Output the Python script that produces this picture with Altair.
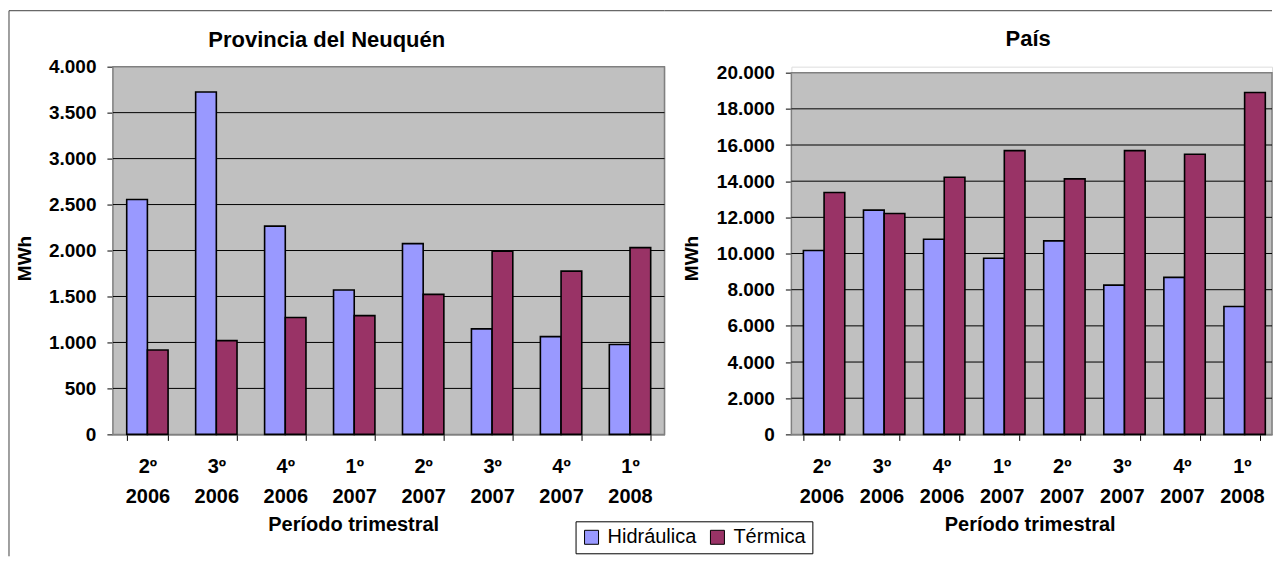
import altair as alt
import pandas as pd

FONT = "Liberation Sans"

periodos = ["2º 2006", "3º 2006", "4º 2006", "1º 2007", "2º 2007", "3º 2007", "4º 2007", "1º 2008"]
tipos = ["Hidráulica", "Térmica"]
colores = ["#9999FF", "#993366"]

neu_hidraulica = [2555, 3725, 2265, 1570, 2075, 1148, 1063, 977]
neu_termica = [918, 1020, 1272, 1292, 1523, 1992, 1776, 2032]
pais_hidraulica = [10170, 12400, 10790, 9740, 10700, 8250, 8680, 7070]
pais_termica = [13370, 12210, 14215, 15690, 14125, 15690, 15490, 18900]

neu_ticks = [0, 500, 1000, 1500, 2000, 2500, 3000, 3500, 4000]
pais_ticks = [0, 2000, 4000, 6000, 8000, 10000, 12000, 14000, 16000, 18000, 20000]

titulos = ["Provincia del Neuquén", "País"]
eje_y = "MWh"
eje_x = "Período trimestral"

legend = alt.Legend(
    title=None, orient="none", legendX=463, legendY=455, direction="horizontal",
    strokeColor="black", fillColor="white", padding=6, symbolType="square",
    symbolSize=196, symbolStrokeColor="black", symbolStrokeWidth=1,
    labelFont=FONT, labelFontSize=20, labelColor="black", labelOffset=6,
    columnPadding=11, symbolOpacity=1,
)


def text_layer(txt, x, y, size=20, angle=0, baseline="alphabetic"):
    return alt.Chart(pd.DataFrame({"t": [txt]})).mark_text(
        font=FONT, fontSize=size, fontWeight="bold", color="black",
        align="center", baseline=baseline, angle=angle,
    ).encode(text="t:N", x=alt.value(x), y=alt.value(y))


def rule_layer(x, x2=None, y=None, y2=None):
    enc = {"x": alt.value(x), "y": alt.value(y)}
    if x2 is not None:
        enc["x2"] = alt.value(x2)
    if y2 is not None:
        enc["y2"] = alt.value(y2)
    return alt.Chart(pd.DataFrame({"a": [0]})).mark_rule(
        color="#404040", strokeWidth=1).encode(**enc)


def panel(hid, ter, ticks, title, w, h, top, p):
    df = pd.DataFrame({
        "periodo": periodos * 2,
        "tipo": [tipos[0]] * len(periodos) + [tipos[1]] * len(periodos),
        "valor": hid + ter,
    })
    yscale = alt.Scale(domain=[ticks[0], ticks[-1]], nice=False, zero=True,
                       range=[h, top])
    yaxis = alt.Axis(title=None, values=ticks, grid=False,
                     labelExpr="replace(format(datum.value, ','), ',', '.')",
                     tickSize=6, labelPadding=11, tickColor="black",
                     domainColor="#404040", labelFont=FONT,
                     labelFontSize=19, labelFontWeight="bold",
                     labelColor="black")
    bg = alt.Chart(pd.DataFrame({"a": [0]})).mark_rect(
        fill="#C0C0C0", stroke="#808080", strokeWidth=1.5).encode(
        x=alt.value(0), x2=alt.value(w), y=alt.value(top), y2=alt.value(h))
    grid = alt.Chart(pd.DataFrame({"v": ticks[1:-1]})).mark_rule(
        color="black", strokeWidth=1).encode(
        y=alt.Y("v:Q", scale=yscale, axis=yaxis))
    bars = alt.Chart(df).mark_bar(stroke="black", strokeWidth=1.6).encode(
        x=alt.X("periodo:N", sort=periodos,
                scale=alt.Scale(paddingInner=0.4, paddingOuter=0.2),
                axis=alt.Axis(title=None, labelAngle=0,
                              labelExpr="isValid(datum.value) ? split(datum.value, ' ') : ''",
                              labelLineHeight=30, labelBaseline="top",
                              labelPadding=16, tickSize=6, tickBand="extent",
                              tickColor="black", domainColor="#404040",
                              labelFont=FONT, labelFontSize=20,
                              labelFontWeight="bold", labelColor="black",
                              grid=False)),
        xOffset=alt.XOffset("tipo:N", sort=tipos),
        y=alt.Y("valor:Q", scale=yscale, axis=yaxis),
        color=alt.Color("tipo:N", sort=tipos,
                        scale=alt.Scale(domain=tipos, range=colores),
                        legend=legend),
    )
    layers = [bg, grid, bars,
              text_layer(title, p["tx"], p["ty"], size=22),
              text_layer(eje_y, p["mx"], p["my"], size=19, angle=270, baseline="middle"),
              text_layer(eje_x, p["xx"], p["xy"]),
              rule_layer(p["bx1"], x2=p["bx2"], y=p["by"])]
    if p.get("left"):
        layers.append(rule_layer(p["bx1"], y=p["by"], y2=p["ly2"]))
    return alt.layer(*layers).properties(width=w, height=h)


left = panel(neu_hidraulica, neu_termica, neu_ticks, titulos[0], 552, 368, 0,
             dict(tx=214, ty=-20, mx=-88, my=192, xx=241, xy=465,
                  bx1=-104, bx2=552, by=-56, left=True, ly2=490))
right = panel(pais_hidraulica, pais_termica, pais_ticks, titulos[1], 481, 368, 6,
              dict(tx=237, ty=-21, mx=-99, my=192, xx=239, xy=465,
                   bx1=-127, bx2=481, by=-56))

chart = alt.hconcat(left, right, spacing=-3).resolve_scale(color="shared").properties(
    padding={"left": 0, "top": 1.5, "right": 0, "bottom": 0}
).configure_view(fill=None, stroke=None
).configure(background="white")

chart.save("out.html", embed_options={"renderer": "svg", "actions": False})
